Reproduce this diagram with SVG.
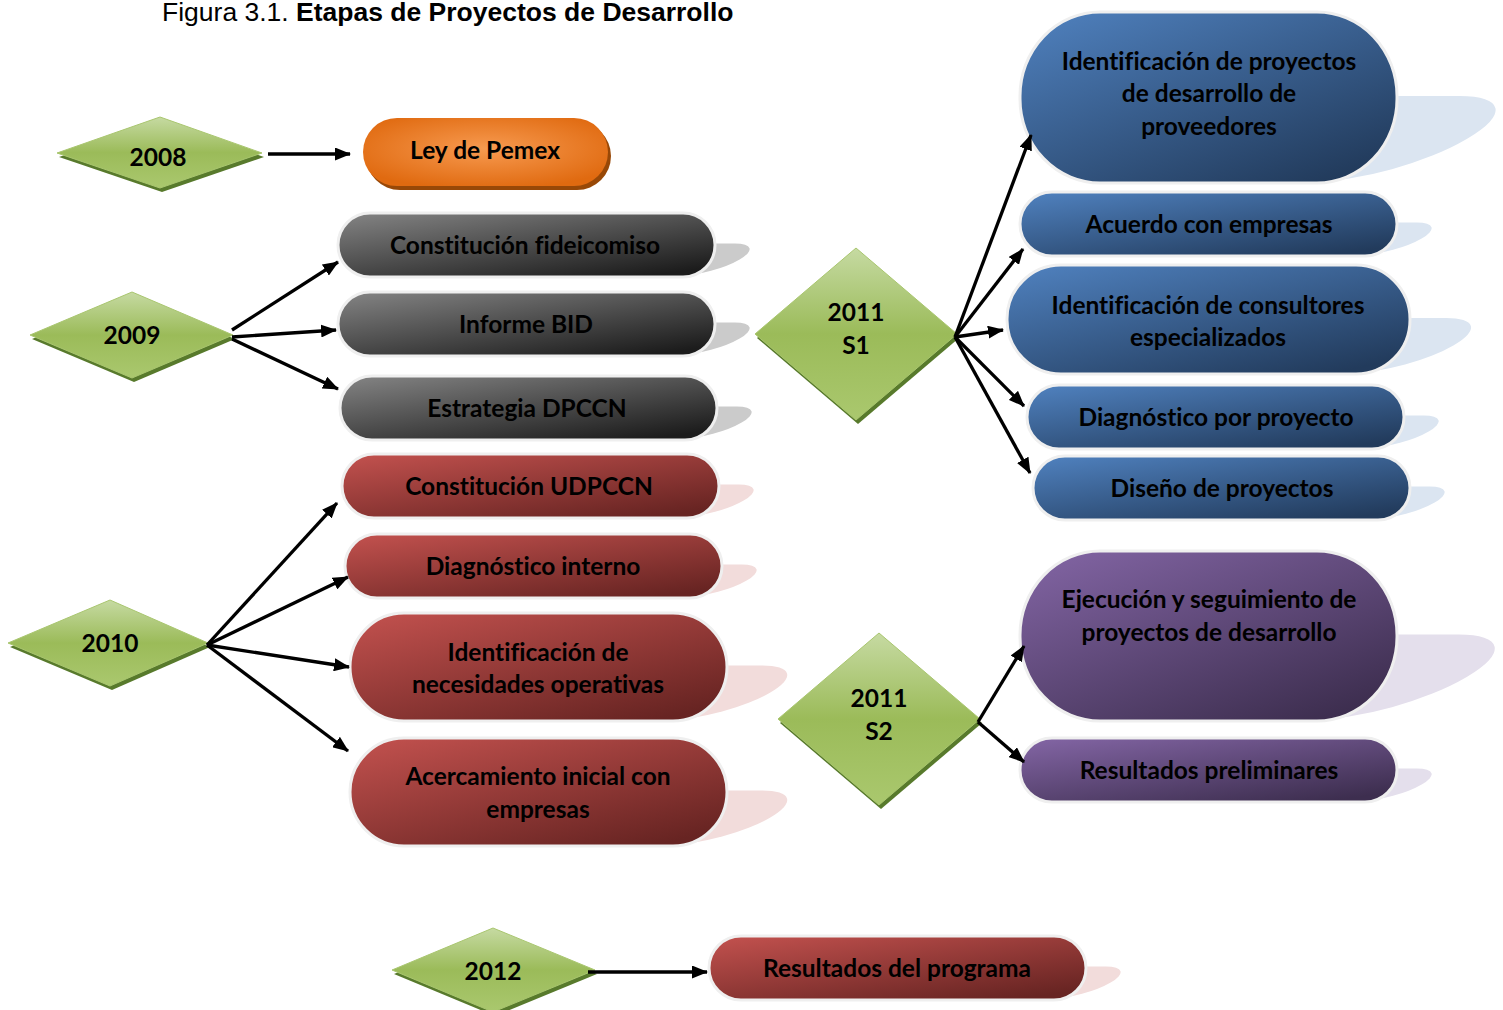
<svg xmlns="http://www.w3.org/2000/svg" width="1503" height="1010" viewBox="0 0 1503 1010">
<defs>
<style>
.t{font-family:Lato,"Open Sans","DejaVu Sans",sans-serif;font-weight:700;font-size:24.5px;fill:#000;text-anchor:middle;font-variant-ligatures:none;font-feature-settings:"liga" 0}
.title{font-family:"Liberation Sans",Arial,sans-serif;font-size:26.5px;fill:#000}
.pill{stroke:#efefef;stroke-width:3}
.dia{fill:url(#gG);stroke:#a9c66f;stroke-width:1}
.dsh{fill:#587a2c}
.sg{fill:#cbcbcb}
.sr{fill:#f2dcdb}
.sb{fill:#dbe5f1}
.sp{fill:#e4dfec}
.c{stroke:#000;stroke-width:3.3;fill:none;marker-end:url(#ah)}
</style>
<linearGradient id="gG" x1="0" y1="0" x2="0" y2="1">
<stop offset="0" stop-color="#c6daa2"/><stop offset="0.5" stop-color="#9bbb59"/><stop offset="1" stop-color="#aac86e"/>
</linearGradient>
<linearGradient id="gGrey" x1="0" y1="0" x2="0.8" y2="1">
<stop offset="0" stop-color="#858585"/><stop offset="1" stop-color="#1c1c1c"/>
</linearGradient>
<linearGradient id="gRed" x1="0" y1="0" x2="0.8" y2="1">
<stop offset="0" stop-color="#c4524f"/><stop offset="1" stop-color="#672422"/>
</linearGradient>
<linearGradient id="gBlue" x1="0" y1="0" x2="0.8" y2="1">
<stop offset="0" stop-color="#5082c0"/><stop offset="1" stop-color="#223b5c"/>
</linearGradient>
<linearGradient id="gPur" x1="0" y1="0" x2="0.8" y2="1">
<stop offset="0" stop-color="#8466a6"/><stop offset="1" stop-color="#3d2e4f"/>
</linearGradient>
<radialGradient id="gOr" cx="0.5" cy="0.45" r="0.6">
<stop offset="0" stop-color="#f79a50"/><stop offset="1" stop-color="#e06a10"/>
</radialGradient>
<marker id="ah" markerWidth="16" markerHeight="13" refX="15" refY="6.5" orient="auto" markerUnits="userSpaceOnUse">
<path d="M0,0 L16,6.5 L0,13 z" fill="#000"/>
</marker>
</defs>
<rect width="1503" height="1010" fill="#fff"/>
<text class="title" x="162" y="21">Figura 3.1. <tspan font-weight="700">Etapas de Proyectos de Desarrollo</tspan></text>

<g id="d2008"><polygon class="dsh" points="162,121 264,157 162,192 59,157"/><polygon class="dia" points="160,117 262,153 160,188 57,153"/><text class="t" x="158" y="166">2008</text></g>
<g id="d2009"><polygon class="dsh" points="134,296 235,339 134,382 32,339"/><polygon class="dia" points="132,292 233,335 132,378 30,335"/><text class="t" x="132" y="344">2009</text></g>
<g id="d2010"><polygon class="dsh" points="112,604 210,647 112,690 10,647"/><polygon class="dia" points="110,600 208,643 110,686 8,643"/><text class="t" x="110" y="652">2010</text></g>
<g id="d2011s1"><polygon class="dsh" points="858,252 959,338 858,424 757,338"/><polygon class="dia" points="856,248 957,334 856,420 755,334"/><text class="t" x="856" y="321">2011</text><text class="t" x="856" y="354">S1</text></g>
<g id="d2011s2"><polygon class="dsh" points="881,637 982,723 881,809 780,723"/><polygon class="dia" points="879,633 980,719 879,805 778,719"/><text class="t" x="879" y="707">2011</text><text class="t" x="879" y="740">S2</text></g>
<g id="d2012"><polygon class="dsh" points="495,932 597,974 495,1016 394,974"/><polygon class="dia" points="493,928 595,970 493,1012 392,970"/><text class="t" x="493" y="980">2012</text></g>

<g id="n-ley"><rect x="366" y="122" width="245" height="68" rx="34" fill="#984807"/><rect x="363" y="118" width="245" height="68" rx="34" fill="url(#gOr)"/><text class="t" x="485" y="159">Ley de Pemex</text></g>

<g id="n-fideicomiso"><rect class="sg" x="338" y="213" width="377" height="64" rx="32" transform="matrix(1,0,-0.85,0.5,232.9,137)"/><rect class="pill" x="338" y="213" width="377" height="64" rx="32" fill="url(#gGrey)"/><text class="t" x="525" y="254">Constitución fideicomiso</text></g>
<g id="n-bid"><rect class="sg" x="338" y="292" width="377" height="64" rx="32" transform="matrix(1,0,-0.85,0.5,300.05,176.5)"/><rect class="pill" x="338" y="292" width="377" height="64" rx="32" fill="url(#gGrey)"/><text class="t" x="526" y="333">Informe BID</text></g>
<g id="n-dpccn"><rect class="sg" x="340" y="376" width="377" height="64" rx="32" transform="matrix(1,0,-0.85,0.5,371.45,218.5)"/><rect class="pill" x="340" y="376" width="377" height="64" rx="32" fill="url(#gGrey)"/><text class="t" x="527" y="417">Estrategia DPCCN</text></g>

<g id="n-udpccn"><rect class="sr" x="342" y="454" width="377" height="64" rx="32" transform="matrix(1,0,-0.85,0.5,437.75,257.5)"/><rect class="pill" x="342" y="454" width="377" height="64" rx="32" fill="url(#gRed)"/><text class="t" x="529" y="495">Constitución UDPCCN</text></g>
<g id="n-interno"><rect class="sr" x="345" y="534" width="377" height="64" rx="32" transform="matrix(1,0,-0.85,0.5,505.75,297.5)"/><rect class="pill" x="345" y="534" width="377" height="64" rx="32" fill="url(#gRed)"/><text class="t" x="533" y="575">Diagnóstico interno</text></g>
<g id="n-necesidades"><rect class="sr" x="350" y="613" width="377" height="108" rx="54" transform="matrix(1,0,-0.85,0.5,610.3,359)"/><rect class="pill" x="350" y="613" width="377" height="108" rx="54" fill="url(#gRed)"/><text class="t" x="538" y="661">Identificación de</text><text class="t" x="538" y="693">necesidades operativas</text></g>
<g id="n-acercamiento"><rect class="sr" x="350" y="738" width="377" height="108" rx="54" transform="matrix(1,0,-0.85,0.5,716.55,421.5)"/><rect class="pill" x="350" y="738" width="377" height="108" rx="54" fill="url(#gRed)"/><text class="t" x="538" y="785">Acercamiento inicial con</text><text class="t" x="538" y="818">empresas</text></g>
<g id="n-programa"><rect class="sr" x="709" y="936" width="377" height="64" rx="32" transform="matrix(1,0,-0.85,0.5,847.45,498.5)"/><rect class="pill" x="709" y="936" width="377" height="64" rx="32" fill="url(#gRed)"/><text class="t" x="897" y="977">Resultados del programa</text></g>

<g id="n-proyectos"><rect class="sb" x="1020" y="12" width="377" height="171" rx="80" ry="84" transform="matrix(1,0,-0.85,0.5,153,90)"/><rect class="pill" x="1020" y="12" width="377" height="171" rx="80" ry="84" fill="url(#gBlue)"/><text class="t" x="1209" y="70">Identificación de proyectos</text><text class="t" x="1209" y="102">de desarrollo de</text><text class="t" x="1209" y="135">proveedores</text></g>
<g id="n-acuerdo"><rect class="sb" x="1020" y="192" width="377" height="64" rx="32" transform="matrix(1,0,-0.85,0.5,215.05,126.5)"/><rect class="pill" x="1020" y="192" width="377" height="64" rx="32" fill="url(#gBlue)"/><text class="t" x="1209" y="233">Acuerdo con empresas</text></g>
<g id="n-consultores"><rect class="sb" x="1007" y="265" width="403" height="109" rx="54" transform="matrix(1,0,-0.85,0.5,315.35,185.5)"/><rect class="pill" x="1007" y="265" width="403" height="109" rx="54" fill="url(#gBlue)"/><text class="t" x="1208" y="314">Identificación de consultores</text><text class="t" x="1208" y="346">especializados</text></g>
<g id="n-diagproy"><rect class="sb" x="1027" y="385" width="377" height="64" rx="32" transform="matrix(1,0,-0.85,0.5,379.1,223)"/><rect class="pill" x="1027" y="385" width="377" height="64" rx="32" fill="url(#gBlue)"/><text class="t" x="1216" y="426">Diagnóstico por proyecto</text></g>
<g id="n-diseno"><rect class="sb" x="1033" y="456" width="377" height="64" rx="32" transform="matrix(1,0,-0.85,0.5,439.45,258.5)"/><rect class="pill" x="1033" y="456" width="377" height="64" rx="32" fill="url(#gBlue)"/><text class="t" x="1222" y="497">Diseño de proyectos</text></g>

<g id="n-ejecucion"><rect class="sp" x="1020" y="551" width="377" height="170" rx="80" ry="84" transform="matrix(1,0,-0.85,0.5,610.3,359)"/><rect class="pill" x="1020" y="551" width="377" height="170" rx="80" ry="84" fill="url(#gPur)"/><text class="t" x="1209" y="608">Ejecución y seguimiento de</text><text class="t" x="1209" y="641">proyectos de desarrollo</text></g>
<g id="n-preliminares"><rect class="sp" x="1020" y="738" width="377" height="64" rx="32" transform="matrix(1,0,-0.85,0.5,679.15,399.5)"/><rect class="pill" x="1020" y="738" width="377" height="64" rx="32" fill="url(#gPur)"/><text class="t" x="1209" y="779">Resultados preliminares</text></g>

<g id="connectors">
<line class="c" x1="268" y1="154" x2="350" y2="154"/>
<line class="c" x1="232" y1="330" x2="338" y2="262"/>
<line class="c" x1="232" y1="337" x2="336" y2="330"/>
<line class="c" x1="232" y1="339" x2="338" y2="389"/>
<line class="c" x1="207" y1="645" x2="337" y2="503"/>
<line class="c" x1="207" y1="645" x2="348" y2="577"/>
<line class="c" x1="207" y1="645" x2="349" y2="667"/>
<line class="c" x1="207" y1="645" x2="348" y2="751"/>
<line class="c" x1="955" y1="337" x2="1031" y2="135"/>
<line class="c" x1="955" y1="337" x2="1023" y2="249"/>
<line class="c" x1="955" y1="337" x2="1003" y2="330"/>
<line class="c" x1="955" y1="337" x2="1024" y2="406"/>
<line class="c" x1="955" y1="337" x2="1030" y2="473"/>
<line class="c" x1="978" y1="722" x2="1024" y2="646"/>
<line class="c" x1="978" y1="722" x2="1024" y2="762"/>
<line class="c" x1="588" y1="972" x2="707" y2="972"/>
</g>
</svg>
